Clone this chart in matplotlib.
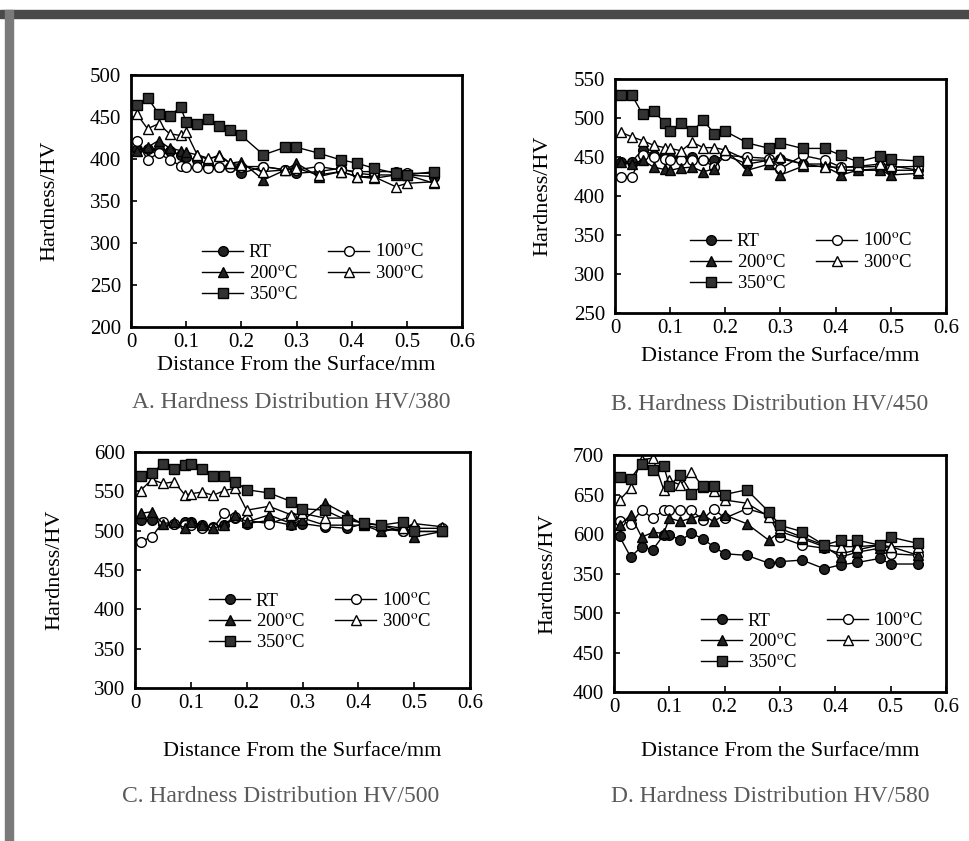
import numpy as np
import matplotlib
matplotlib.use('Agg')
import matplotlib.pyplot as plt
from matplotlib.patches import Rectangle

plt.rcParams['font.family'] = ['Liberation Serif', 'DejaVu Serif']
plt.rcParams['mathtext.fontset'] = 'stix'

# distance from the surface (mm), shared by all series
DIST = [0.01, 0.03, 0.05, 0.07, 0.09, 0.10, 0.12, 0.14, 0.16, 0.18, 0.20,
        0.24, 0.28, 0.30, 0.34, 0.38, 0.41, 0.44, 0.48, 0.50, 0.55]

SERIES = ['RT', '100', '200', '300', '350']

# A. HV/380
A_RT = [412, 412, 412, 410, 405, 402, 399, 393, 391, 391, 383, 391, 387, 383, 385, 389, 383, 381, 381, 381, 379]
A_100 = [422, 399, 407, 399, 392, 390, 390, 389, 391, 391, 391, 391, 387, 387, 391, 387, 385, 385, 385, 383, 383]
A_200 = [410, 414, 422, 413, 410, 408, 405, 399, 405, 395, 397, 375, 387, 395, 379, 385, 379, 377, 381, 381, 371]
A_300 = [454, 436, 442, 430, 428, 432, 405, 401, 403, 395, 393, 385, 387, 389, 381, 385, 379, 379, 367, 371, 373]
A_350 = [464, 473, 454, 451, 462, 444, 442, 448, 439, 434, 428, 405, 414, 414, 407, 399, 395, 389, 383, 381, 385]

# B. HV/450
B_RT = [444, 444, 459, 453, 452, 450, 450, 450, 446, 446, 452, 441, 446, 448, 441, 441, 433, 433, 435, 433, 433]
B_100 = [425, 425, 452, 450, 448, 446, 446, 446, 446, 437, 452, 450, 448, 435, 452, 446, 437, 437, 438, 437, 438]
B_200 = [444, 441, 446, 437, 434, 433, 436, 437, 431, 435, 459, 433, 441, 427, 438, 438, 427, 433, 433, 427, 429]
B_300 = [482, 476, 471, 465, 462, 461, 458, 469, 462, 462, 459, 446, 446, 450, 441, 437, 437, 438, 441, 439, 433]
B_350 = [530, 530, 505, 509, 494, 483, 494, 483, 497, 480, 483, 468, 461, 468, 461, 461, 452, 444, 451, 447, 445]

# C. HV/500
C_RT = [513, 513, 509, 509, 511, 511, 507, 505, 507, 516, 509, 513, 507, 509, 505, 503, 509, 507, 499, 499, 499]
C_100 = [486, 492, 511, 509, 507, 507, 503, 503, 522, 518, 513, 509, 518, 516, 507, 507, 507, 503, 499, 503, 503]
C_200 = [522, 524, 509, 511, 503, 511, 507, 503, 507, 520, 511, 520, 509, 513, 535, 520, 507, 499, 503, 492, 499]
C_300 = [551, 565, 560, 562, 545, 547, 549, 545, 551, 554, 526, 531, 520, 522, 516, 516, 509, 507, 503, 509, 505]
C_350 = [570, 573, 585, 579, 583, 585, 579, 569, 570, 562, 552, 548, 537, 528, 526, 513, 510, 507, 511, 499, 499]

# D. HV/580
D_RT = [597, 571, 584, 580, 599, 599, 592, 601, 594, 584, 575, 573, 563, 565, 567, 556, 561, 564, 569, 562, 562]
D_100 = [616, 613, 630, 620, 630, 630, 630, 630, 618, 632, 620, 632, 624, 596, 586, 582, 575, 580, 586, 575, 573]
D_200 = [611, 624, 596, 602, 601, 620, 616, 620, 624, 616, 624, 613, 592, 603, 594, 584, 571, 577, 582, 584, 573]
D_300 = [643, 658, 694, 696, 656, 668, 662, 679, 660, 654, 643, 639, 622, 607, 596, 586, 584, 584, 586, 584, 584]
D_350 = [672, 670, 689, 681, 686, 661, 675, 651, 661, 661, 650, 656, 628, 611, 603, 586, 592, 592, 586, 596, 588]

Y_RANGES = {'A': (200, 500), 'B': (250, 550), 'C': (300, 600), 'D': (400, 700)}
D_YLABELS = ['400', '450', '500', '350', '600', '650', '700']
CAPTIONS = {'A': 'A. Hardness Distribution HV/380',
            'B': 'B. Hardness Distribution HV/450',
            'C': 'C. Hardness Distribution HV/500',
            'D': 'D. Hardness Distribution HV/580'}

LABELS = {'RT': 'RT', '100': r'100$^{\rm o}$C', '200': r'200$^{\rm o}$C',
          '300': r'300$^{\rm o}$C', '350': r'350$^{\rm o}$C'}
STYLES = {'RT': dict(marker='o', mfc='#222222'),
          '100': dict(marker='o', mfc='white'),
          '200': dict(marker='^', mfc='#222222'),
          '300': dict(marker='^', mfc='white'),
          '350': dict(marker='s', mfc='#333333')}

DATA = {'A': [A_RT, A_100, A_200, A_300, A_350],
        'B': [B_RT, B_100, B_200, B_300, B_350],
        'C': [C_RT, C_100, C_200, C_300, C_350],
        'D': [D_RT, D_100, D_200, D_300, D_350]}

W, H = 970, 841
# frame boxes in pixels: left, top, right, bottom
BOXES = {'A': (131, 75, 462, 327), 'B': (615, 79, 946, 313),
         'C': (135, 452, 470, 688), 'D': (614, 455, 946, 692)}
# pixel spots: legend upper-left, y-label centre x, x-label centre y, caption centre
LEG_AT = {'A': (202, 244), 'B': (690, 233), 'C': (209, 592), 'D': (701, 612)}
YLAB_X = {'A': 50, 'B': 543, 'C': 55, 'D': 548}
XLAB_Y = {'A': 365, 'B': 356, 'C': 752, 'D': 752}
CAP_AT = {'A': (291, 402), 'B': (770, 404), 'C': (281, 797), 'D': (770, 797)}

fig = plt.figure(figsize=(W / 100, H / 100), dpi=100)
fig.patches.append(Rectangle((0, 1 - 18 / H), 1, 8 / H, transform=fig.transFigure,
                             color='#4a4a4a', zorder=0))
fig.patches.append(Rectangle((5 / W, 0), 8 / W, 1 - 10 / H, transform=fig.transFigure,
                             color='#7a7a7a', zorder=0))

for key in ['A', 'B', 'C', 'D']:
    l, t, r, b = BOXES[key]
    ax = fig.add_axes([l / W, 1 - b / H, (r - l) / W, (b - t) / H])
    handles = {}
    for name, ys in zip(SERIES, DATA[key]):
        st = STYLES[name]
        h, = ax.plot(DIST, ys, color='black', lw=1.0, marker=st['marker'],
                     mfc=st['mfc'], mec='black', ms=7, mew=1.0, label=LABELS[name])
        handles[name] = h
    order = ['RT', '200', '350', '100', '300']
    lx, ly = LEG_AT[key]
    ax.legend([handles[n] for n in order], [LABELS[n] for n in order], ncol=2,
              frameon=False, loc='upper left',
              bbox_to_anchor=(lx / W, 1 - ly / H), bbox_transform=fig.transFigure,
              fontsize=13.5, handlelength=2.2, handletextpad=0.3,
              columnspacing=1.6, labelspacing=0.2, borderpad=0, borderaxespad=0)
    lo, hi = Y_RANGES[key]
    ax.set_xlim(0, 0.6)
    ax.set_ylim(lo, hi)
    ax.set_xticks(np.arange(0, 0.61, 0.1))
    ax.set_xticklabels(['0', '0.1', '0.2', '0.3', '0.4', '0.5', '0.6'])
    ax.set_yticks(np.arange(lo, hi + 1, 50))
    if key == 'D':
        ax.set_yticklabels(D_YLABELS)
    ax.tick_params(axis='both', direction='in', length=4, width=1.2, labelsize=15)
    ax.tick_params(axis='y', pad=7)
    ax.tick_params(axis='x', pad=4)
    for s in ax.spines.values():
        s.set_linewidth(2)
    ax.set_xlabel('Distance From the Surface/mm', fontsize=16)
    ax.set_ylabel('Hardness/HV', fontsize=16)
    ax.xaxis.set_label_coords(0.5, (b - XLAB_Y[key]) / (b - t), transform=ax.transAxes)
    ax.xaxis.label.set_va('center')
    ax.yaxis.set_label_coords((YLAB_X[key] - l) / (r - l), 0.5, transform=ax.transAxes)
    ax.yaxis.label.set_va('center')
    cx, cy = CAP_AT[key]
    fig.text(cx / W, 1 - cy / H, CAPTIONS[key], ha='center', va='center',
             fontsize=17, color='#5a5a5a')

fig.savefig('out.png', dpi=100)
